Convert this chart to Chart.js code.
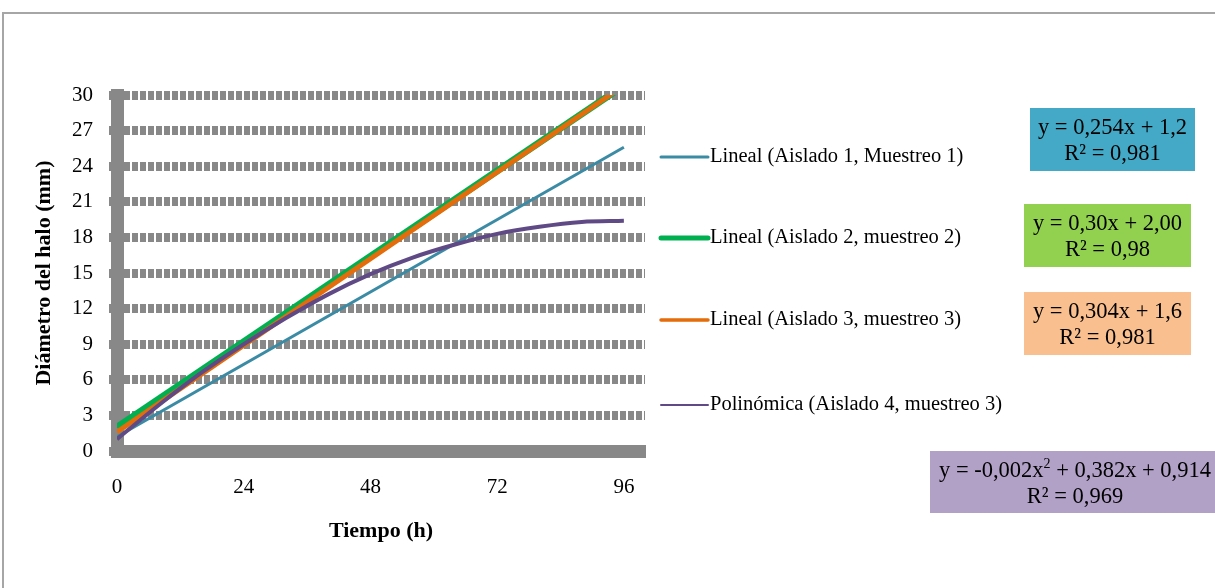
<!DOCTYPE html>
<html>
<head>
<meta charset="utf-8">
<script src="https://cdn.jsdelivr.net/npm/chart.js@4.4.0/dist/chart.umd.min.js"></script>
<style>
  html, body { margin: 0; padding: 0; background: #fff; }
  #wrap { width: 1215px; height: 588px; }
</style>
</head>
<body>
<div id="wrap"><canvas id="chart" width="1215" height="588"></canvas></div>
<script>
'use strict'

/* global Chart */

// trend lines, hours 0 -> 96
const lineHours = [0, 96]
const aislado1 = [1.2, 25.6]
const aislado2 = [2.0, 30.8]
const aislado3 = [1.6, 30.8]

// polynomial trend, read every 8 h
const polyHours = [0, 8, 16, 24, 32, 40, 48, 56, 64, 72, 80, 88, 96]
const aislado4 = [1.0, 3.9, 6.6, 9.0, 11.2, 13.2, 14.9, 16.3, 17.4, 18.3, 18.9, 19.3, 19.4]

const seriesLabels = [
  'Lineal (Aislado 1, Muestreo 1)',
  'Lineal (Aislado 2, muestreo 2)',
  'Lineal (Aislado 3, muestreo 3)',
  'Polinómica (Aislado 4, muestreo 3)'
]

const xTicks = [0, 24, 48, 72, 96]

// "^2" marks a raised exponent
const equations = [
  ['y = 0,254x + 1,2', 'R² = 0,981'],
  ['y = 0,30x + 2,00', 'R² = 0,98'],
  ['y = 0,304x + 1,6', 'R² = 0,981'],
  ['y = -0,002x^2 + 0,382x + 0,914', 'R² = 0,969']
]

const serif = "'Times New Roman', 'Liberation Serif', serif"
const gridGrey = '#888888'

const toPoints = (xs, ys) => xs.map((x, i) => ({ x: x, y: ys[i] }))

// legend rows and equation boxes on the right
const legendRows = [157, 238, 320, 405]
const legendWidths = [3, 5, 3.5, 2]
const eqBoxes = [
  { x: 1030, y: 108, w: 165, h: 63, color: '#43a9c6' },
  { x: 1024, y: 204, w: 167, h: 63, color: '#92d050' },
  { x: 1024, y: 292, w: 167, h: 63, color: '#f9bf8f' },
  { x: 930, y: 451, w: 290, h: 62, color: '#b2a1c7' }
]

function drawEquation (ctx, text, cx, cy) {
  const parts = text.split(/\^(\d)/)
  const big = '22.5px ' + serif
  const small = '14px ' + serif
  let total = 0
  parts.forEach((p, i) => {
    ctx.font = i % 2 ? small : big
    total += ctx.measureText(p).width
  })
  let x = cx - total / 2
  ctx.textAlign = 'left'
  ctx.textBaseline = 'middle'
  parts.forEach((p, i) => {
    ctx.font = i % 2 ? small : big
    ctx.fillText(p, x, i % 2 ? cy - 7 : cy)
    x += ctx.measureText(p).width
  })
}

const sidePanel = {
  id: 'sidePanel',
  beforeDraw (chart) {
    const ctx = chart.ctx
    ctx.save()
    ctx.strokeStyle = '#a6a6a6'
    ctx.lineWidth = 2
    ctx.strokeRect(3, 13, 1300, 700)
    ctx.restore()
  },
  afterDraw (chart) {
    const ctx = chart.ctx
    ctx.save()
    chart.data.datasets.forEach((ds, i) => {
      const y = legendRows[i]
      ctx.strokeStyle = ds.borderColor
      ctx.lineWidth = legendWidths[i]
      ctx.lineCap = 'round'
      ctx.beginPath()
      ctx.moveTo(661, y)
      ctx.lineTo(708, y)
      ctx.stroke()
      ctx.fillStyle = '#000'
      ctx.font = '20.5px ' + serif
      ctx.textAlign = 'left'
      ctx.textBaseline = 'middle'
      ctx.fillText(ds.label, 710, y)
    })
    eqBoxes.forEach((b, i) => {
      ctx.fillStyle = b.color
      ctx.fillRect(b.x, b.y, b.w, b.h)
      ctx.fillStyle = '#000'
      const cx = b.x + b.w / 2
      const cy = b.y + b.h / 2
      drawEquation(ctx, equations[i][0], cx, cy - 11)
      drawEquation(ctx, equations[i][1], cx, cy + 15)
    })
    ctx.restore()
  }
}

const chart = new Chart(document.getElementById('chart'), {
  type: 'line',
  data: {
    datasets: [{
      label: seriesLabels[0],
      data: toPoints(lineHours, aislado1),
      borderColor: '#3b8ba5',
      borderWidth: 3,
      order: 4
    }, {
      label: seriesLabels[1],
      data: toPoints(lineHours, aislado2),
      borderColor: '#00b050',
      borderWidth: 7,
      order: 3
    }, {
      label: seriesLabels[2],
      data: toPoints(lineHours, aislado3),
      borderColor: '#e46c0a',
      borderWidth: 5,
      order: 2
    }, {
      label: seriesLabels[3],
      data: toPoints(polyHours, aislado4),
      borderColor: '#5f4a85',
      borderWidth: 4,
      cubicInterpolationMode: 'monotone',
      order: 1
    }]
  },
  options: {
    responsive: false,
    animation: false,
    elements: {
      point: { radius: 0 }
    },
    layout: {
      padding: { left: 27, top: 95, right: 570, bottom: 39 }
    },
    plugins: {
      legend: { display: false },
      tooltip: { enabled: false }
    },
    scales: {
      x: {
        type: 'linear',
        min: 0,
        max: 100,
        afterBuildTicks: (scale) => { scale.ticks = xTicks.map(v => ({ value: v })) },
        afterFit: (scale) => { scale.height = 98 },
        grid: { display: false, drawTicks: false },
        border: { display: true, width: 13, color: gridGrey },
        ticks: {
          color: '#000',
          padding: 24,
          maxRotation: 0,
          font: { family: serif, size: 21 }
        },
        title: {
          display: true,
          text: 'Tiempo (h)',
          color: '#000',
          font: { family: serif, size: 22, weight: 'bold' }
        }
      },
      y: {
        min: 0,
        max: 30,
        afterFit: (scale) => { scale.width = 90 },
        grid: {
          color: (c) => c.tick && c.tick.value === 0 ? 'rgba(0,0,0,0)' : gridGrey,
          tickColor: gridGrey,
          lineWidth: 9,
          tickLength: 8
        },
        border: { display: true, width: 13, color: gridGrey, dash: [6, 2] },
        ticks: {
          stepSize: 3,
          color: '#000',
          padding: 16,
          font: { family: serif, size: 21 }
        },
        title: {
          display: true,
          text: 'Diámetro del halo (mm)',
          color: '#000',
          font: { family: serif, size: 22, weight: 'bold' }
        }
      }
    }
  },
  plugins: [sidePanel]
})
</script>
</body>
</html>
